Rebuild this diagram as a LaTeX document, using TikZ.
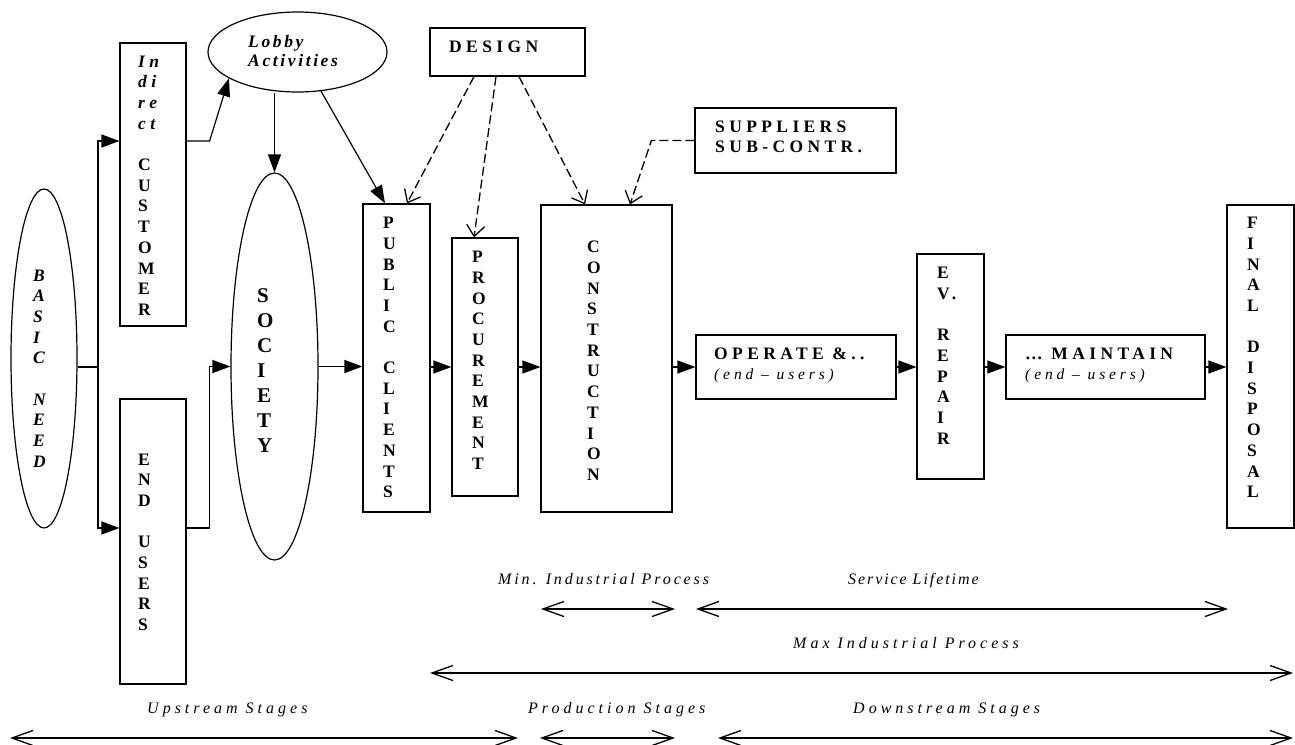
\documentclass[tikz,border=0pt]{standalone}
\usepackage{fontspec}
\setmainfont{Liberation Serif}
\newfontfamily\lspfont[LetterSpace=25]{Liberation Serif}
\newfontfamily\lobfont[LetterSpace=15]{Liberation Serif}
\newfontfamily\minfont[LetterSpace=18]{Liberation Serif}
\newfontfamily\svcfont[LetterSpace=12]{Liberation Serif}
\usetikzlibrary{arrows.meta,shapes.geometric}
\begin{document}
\begin{tikzpicture}[x=1pt,y=-1pt,
  box/.style={draw,line width=1.2pt,rectangle,inner sep=0pt},
  oval/.style={draw,line width=1.2pt,ellipse,inner sep=0pt},
  vtxt/.style={anchor=north west,inner sep=0pt,align=left,font=\lspfont\bfseries\fontsize{17.5}{20.7}\selectfont},
  vitxt/.style={anchor=north west,inner sep=0pt,align=left,font=\lspfont\bfseries\itshape\fontsize{17.5}{20.7}\selectfont},
  htxt/.style={anchor=north west,inner sep=0pt,align=left,font=\lspfont\bfseries\fontsize{17.5}{20.7}\selectfont},
  stage/.style={anchor=base west,inner sep=0pt,font=\lspfont\itshape\fontsize{16}{19}\selectfont},
  flow/.style={line width=1.2pt,-{Triangle[length=18pt,width=13pt]}},
  feed/.style={line width=1.3pt,dash pattern=on 9pt off 4pt,-{Straight Barb[length=11pt,width=18pt]}},
  span/.style={line width=1.3pt,{Straight Barb[length=21pt,width=15pt]}-{Straight Barb[length=21pt,width=15pt]}},
]
\useasboundingbox (0,0) rectangle (1295,744);

% --- upstream side ---
\node[oval,minimum width=66pt,minimum height=339pt] (bn) at (44,358.5) {};
\node[vitxt] (bnT) at (33,269.4) {B\\A\\S\\I\\C\\[20.7pt]N\\E\\E\\D};

\node[box,minimum width=66pt,minimum height=283pt] (ic) at (153,184.5) {};
\node[vtxt] (icT) at (138,55.4) {\textit{In}\\\textit{di}\\\textit{re}\\\textit{ct}\\[20.7pt]C\\U\\S\\T\\O\\M\\E\\R};

\node[box,minimum width=66pt,minimum height=285pt] (eu) at (153,541.5) {};
\node[vtxt] (euT) at (138,453.4) {E\\N\\D\\[20.7pt]U\\S\\E\\R\\S};

\node[oval,minimum width=179pt,minimum height=80pt] (lob) at (297.5,52) {};
\node[anchor=north west,inner sep=0pt,align=left,font=\lobfont\bfseries\itshape\fontsize{17.5}{19}\selectfont] (lobT) at (248,35.4) {Lobby\\Activities};

\node[oval,minimum width=87pt,minimum height=387pt] (soc) at (274.5,366.5) {};
\node[anchor=north west,inner sep=0pt,align=left,font=\bfseries\fontsize{21}{25}\selectfont] (socT) at (257,288) {S\\O\\C\\I\\E\\T\\Y};

% --- production side ---
\node[box,minimum width=155pt,minimum height=48pt] (des) at (507.5,52) {};
\node[htxt] (desT) at (449,40.4) {DESIGN};

\node[box,minimum width=201pt,minimum height=65pt] (sup) at (795.5,140.5) {};
\node[htxt] (supT) at (715,120.4) {SUPPLIERS\\SUB-CONTR.};

\node[box,minimum width=67pt,minimum height=308pt] (pub) at (396.5,358) {};
\node[vtxt] (pubT) at (383,217) {P\\U\\B\\L\\I\\C\\[20.7pt]C\\L\\I\\E\\N\\T\\S};

\node[box,minimum width=66pt,minimum height=258pt] (proc) at (485,367) {};
\node[vtxt] (procT) at (472,251) {P\\R\\O\\C\\U\\R\\E\\M\\E\\N\\T};

\node[box,minimum width=131pt,minimum height=307pt] (cons) at (606.5,358.5) {};
\node[vtxt] (consT) at (587,241) {C\\O\\N\\S\\T\\R\\U\\C\\T\\I\\O\\N};

% --- downstream side ---
\node[box,minimum width=200pt,minimum height=64pt] (oper) at (796,367) {};
\node[htxt] (operT) at (714,347.4) {OPERATE \&..\\{\mdseries\itshape\fontsize{15.5}{20.7}\selectfont (end – users)}};

\node[box,minimum width=67pt,minimum height=225pt] (ev) at (950.5,366.5) {};
\node[vtxt] (evT) at (937,267) {E\\V.\\[20.7pt]R\\E\\P\\A\\I\\R};

\node[box,minimum width=199pt,minimum height=64pt] (mnt) at (1105.5,367) {};
\node[htxt] (mntT) at (1025,347.4) {… MAINTAIN\\{\mdseries\itshape\fontsize{15.5}{20.7}\selectfont (end – users)}};

\node[box,minimum width=67pt,minimum height=323pt] (fin) at (1260.5,366.5) {};
\node[vtxt] (finT) at (1247,217) {F\\I\\N\\A\\L\\[20.7pt]D\\I\\S\\P\\O\\S\\A\\L};

% --- solid flow connectors ---
\coordinate (split) at (98,367);
\draw[line width=1.2pt] (bn.east |- split) -- (split);
\draw[flow] (split) |- ([yshift=43.5pt]ic.west);
\draw[flow] (split) |- ([yshift=13.5pt]eu.west);
\draw[flow] ([yshift=43.5pt]ic.east) -- ++(23,0) -- (lob.201);
\draw[flow] ([yshift=13.5pt]eu.east) -- ++(23,0) |- (soc.west);
\draw[flow] (soc.north |- lob.south) -- (soc.north);
\draw[flow] (lob.-59) -- ([xshift=-11.5pt]pub.north);
\draw[flow] (soc.east) -- (soc.east -| pub.west);
\draw[flow] (pub.east |- split) -- (proc.west |- split);
\draw[flow] (proc.east |- split) -- (cons.west |- split);
\draw[flow] (cons.east |- split) -- (oper.west);
\draw[flow] (oper.east) -- (ev.west |- oper.east);
\draw[flow] (ev.east |- mnt.west) -- (mnt.west);
\draw[flow] (mnt.east) -- (fin.west |- mnt.east);

% --- dashed input connectors ---
\draw[feed] ([xshift=-33.5pt]des.south) -- ([xshift=10.5pt]pub.north);
\draw[feed] ([xshift=-11.5pt]des.south) -- ([xshift=-11pt]proc.north);
\draw[feed] ([xshift=11.5pt]des.south) -- ([xshift=-21.5pt]cons.north);
\draw[feed] (sup.west) -- ++(-43,0) -- ([xshift=23.5pt]cons.north);

% --- stage spans ---
\coordinate (minL) at (541,609);  \coordinate (minR) at (675,609);
\coordinate (svcL) at (696,609);  \coordinate (svcR) at (1228,609);
\coordinate (maxL) at (430,673);  \coordinate (maxR) at (1293,673);
\coordinate (upL) at (10,738);    \coordinate (upR) at (518,738);
\coordinate (prL) at (540,738);   \coordinate (prR) at (675,738);
\coordinate (dnL) at (718,738);   \coordinate (dnR) at (1293,738);
\draw[span] (minL) -- (minR);
\draw[span] (svcL) -- (svcR);
\draw[span] (maxL) -- (maxR);
\draw[span] (upL) -- (upR);
\draw[span] (prL) -- (prR);
\draw[span] (dnL) -- (dnR);

\node[stage,font=\minfont\itshape\fontsize{16}{19}\selectfont] (minT) at (498,584) {Min. Industrial Process};
\node[stage,font=\svcfont\itshape\fontsize{16}{19}\selectfont] (svcT) at (848,584) {Service Lifetime};
\node[stage] (maxT) at (793,648) {Max Industrial Process};
\node[stage] (upT) at (147,713) {Upstream Stages};
\node[stage] (prT) at (528,713) {Production Stages};
\node[stage] (dnT) at (853,713) {Downstream Stages};
\end{tikzpicture}
\end{document}
